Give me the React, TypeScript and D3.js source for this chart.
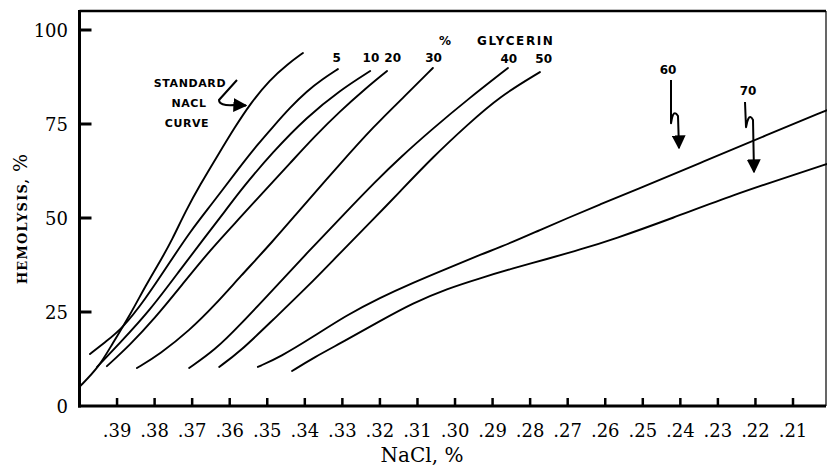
import React from "react";
import * as d3 from "d3";

// ---- data (NaCl %, hemolysis %) ----
const xTicks = [0.39, 0.38, 0.37, 0.36, 0.35, 0.34, 0.33, 0.32, 0.31, 0.30, 0.29, 0.28, 0.27, 0.26, 0.25, 0.24, 0.23, 0.22, 0.21];
const xTickLabels = [".39", ".38", ".37", ".36", ".35", ".34", ".33", ".32", ".31", ".30", ".29", ".28", ".27", ".26", ".25", ".24", ".23", ".22", ".21"];
const yTicks = [0, 25, 50, 75, 100];
const yTickLabels = ["0", "25", "50", "75", "100"];

const standardNaCl: [number, number][] = [
  [0.4, 5.1], [0.3948, 10.4], [0.3913, 16.5], [0.3868, 23.7], [0.3823, 32.2], [0.378, 39.4],
  [0.3754, 44.1], [0.3716, 52.1], [0.3679, 58.8], [0.3631, 66.8], [0.3586, 74.2], [0.3546, 80.3],
  [0.3493, 86.8], [0.3445, 91.0], [0.3405, 93.9],
];
const glycerin5: [number, number][] = [
  [0.3972, 13.8], [0.3932, 17.0], [0.3887, 20.5], [0.3826, 28.2], [0.3759, 38.3], [0.3706, 46.3],
  [0.3647, 53.8], [0.3573, 63.6], [0.3527, 69.4], [0.3485, 74.2], [0.344, 79.3], [0.3394, 83.8],
  [0.3352, 87.0], [0.3312, 89.6],
];
const glycerin10: [number, number][] = [
  [0.3953, 10.4], [0.3892, 16.8], [0.3812, 25.5], [0.3732, 36.2], [0.3666, 44.9], [0.361, 52.1],
  [0.3572, 57.3], [0.3485, 67.6], [0.3394, 76.9], [0.3306, 84.0], [0.3226, 89.1],
];
const glycerin20: [number, number][] = [
  [0.3927, 10.6], [0.3866, 16.2], [0.3799, 23.4], [0.3732, 31.6], [0.3652, 41.5], [0.3573, 50.0],
  [0.3506, 57.4], [0.3439, 64.6], [0.3373, 71.8], [0.3306, 78.4], [0.324, 84.3], [0.3181, 89.1],
];
const glycerin30: [number, number][] = [
  [0.3847, 10.1], [0.3786, 13.8], [0.3706, 20.2], [0.3639, 26.9], [0.3573, 34.3], [0.3485, 43.8],
  [0.3413, 52.2], [0.3306, 64.4], [0.3218, 74.2], [0.3133, 82.5], [0.3059, 89.9],
];
const glycerin40: [number, number][] = [
  [0.3708, 10.1], [0.3639, 14.9], [0.3573, 21.5], [0.3485, 30.9], [0.3394, 40.7], [0.3293, 51.3],
  [0.3213, 59.6], [0.3147, 66.0], [0.3059, 73.8], [0.2968, 81.4], [0.2859, 89.9],
];
const glycerin50: [number, number][] = [
  [0.3628, 10.4], [0.3573, 14.4], [0.3485, 22.9], [0.3394, 31.6], [0.3306, 40.7], [0.3218, 49.6],
  [0.3147, 57.0], [0.3059, 66.2], [0.2968, 74.7], [0.288, 82.4], [0.2774, 88.8],
];
const glycerin60: [number, number][] = [
  [0.3525, 10.4], [0.3466, 13.0], [0.3378, 18.4], [0.3288, 24.2], [0.32, 28.8], [0.3112, 32.8],
  [0.3021, 36.6], [0.2933, 40.2], [0.2846, 43.6], [0.2774, 46.8], [0.2702, 49.9], [0.2614, 53.6],
  [0.2526, 57.2], [0.2348, 64.6], [0.2169, 72.1], [0.2009, 78.7],
];
const glycerin70: [number, number][] = [
  [0.3434, 9.3], [0.3378, 12.8], [0.3288, 17.6], [0.32, 22.6], [0.3112, 27.4], [0.3021, 31.2],
  [0.2933, 34.0], [0.2846, 36.6], [0.2755, 39.1], [0.2667, 41.6], [0.2579, 44.3], [0.242, 50.0],
  [0.226, 56.1], [0.2082, 62.0], [0.2009, 64.4],
];
const allCurves = [standardNaCl, glycerin5, glycerin10, glycerin20, glycerin30, glycerin40, glycerin50, glycerin60, glycerin70];

// curve labels: text and anchor point (NaCl, hemolysis)
const curveLabels = ["5", "10", "20", "30", "40", "50"];
const curveLabelPos: [number, number][] = [
  [0.3315, 91.5], [0.3224, 91.5], [0.3166, 91.5], [0.3057, 91.5], [0.2857, 91.2], [0.2764, 91.2],
];

export default function App() {
  const W = 827, H = 466;
  const x = d3.scaleLinear().domain([0.4, 0.21]).range([79.5, 793]);
  const y = d3.scaleLinear().domain([0, 100]).range([406, 30]);
  const line = d3.line<[number, number]>()
    .x((d) => x(d[0]))
    .y((d) => y(d[1]))
    .curve(d3.curveBasis);

  const serif = "'DejaVu Serif', serif";
  const sans = "'DejaVu Sans', sans-serif";
  const left = 79.5, right = 826, top = 11, bottom = 406;

  return (
    <div style={{ position: "fixed", left: 0, top: 0 }}>
      <svg width={W} height={H} style={{ display: "block", background: "#fff" }}>
        <defs>
          <marker id="ah" viewBox="0 0 10 10" refX="9" refY="5" markerWidth="7" markerHeight="7" orient="auto">
            <path d="M0,0 L10,5 L0,10 z" fill="#000" />
          </marker>
        </defs>
        {/* frame */}
        <line x1={left} x2={right} y1={top} y2={top} stroke="#000" strokeWidth={2.5} />
        <line x1={right} x2={right} y1={top} y2={bottom} stroke="#000" strokeWidth={1.2} />
        <line x1={left} x2={left} y1={top - 1} y2={bottom + 1.5} stroke="#000" strokeWidth={3} />
        <line x1={left - 1.5} x2={right} y1={bottom} y2={bottom} stroke="#000" strokeWidth={3} />

        {/* y ticks */}
        {yTicks.map((t, i) => (
          <g key={"y" + i}>
            {t > 0 && <line x1={left} x2={left + 12} y1={y(t)} y2={y(t)} stroke="#000" strokeWidth={3} />}
            <text x={68} y={y(t) + 6.5} textAnchor="end" fontFamily={serif} fontSize={18}>{yTickLabels[i]}</text>
          </g>
        ))}
        {/* x ticks */}
        {xTicks.map((t, i) => (
          <g key={"x" + i}>
            <line x1={x(t)} x2={x(t)} y1={bottom} y2={bottom - 8} stroke="#000" strokeWidth={2.5} />
            <text x={x(t)} y={437} textAnchor="middle" fontFamily={serif} fontSize={18}>{xTickLabels[i]}</text>
          </g>
        ))}

        {/* axis titles */}
        <text x={422} y={462} textAnchor="middle" fontFamily={serif} fontSize={20}>NaCl, %</text>
        <text transform="translate(27,219) rotate(-90)" textAnchor="middle" fontFamily={serif}>
          <tspan fontSize={13} fontWeight="bold" letterSpacing={1.2}>HEMOLYSIS, </tspan>
          <tspan fontSize={19}>%</tspan>
        </text>

        {/* curves */}
        {allCurves.map((c, i) => (
          <path key={"c" + i} d={line(c) || ""} fill="none" stroke="#000" strokeWidth={1.9} strokeLinecap="round" />
        ))}

        {/* labels */}
        <text x={445} y={45} textAnchor="middle" fontFamily={sans} fontWeight="bold" fontSize={12}>%</text>
        <text x={477} y={45} fontFamily={sans} fontWeight="bold" fontSize={12} letterSpacing={1.6}>GLYCERIN</text>
        {curveLabels.map((s, i) => (
          <text key={"l" + i} x={x(curveLabelPos[i][0])} y={y(curveLabelPos[i][1])} textAnchor="middle"
            fontFamily={sans} fontWeight="bold" fontSize={12}>{s}</text>
        ))}
        <text x={668} y={74} textAnchor="middle" fontFamily={sans} fontWeight="bold" fontSize={12}>60</text>
        <text x={748} y={95} textAnchor="middle" fontFamily={sans} fontWeight="bold" fontSize={12}>70</text>

        <text x={190} y={87} textAnchor="middle" fontFamily={sans} fontWeight="bold" fontSize={11} letterSpacing={0.6}>STANDARD</text>
        <text x={189} y={107} textAnchor="middle" fontFamily={sans} fontWeight="bold" fontSize={11} letterSpacing={0.6}>NACL</text>
        <text x={187} y={127} textAnchor="middle" fontFamily={sans} fontWeight="bold" fontSize={11} letterSpacing={0.6}>CURVE</text>

        {/* annotation arrows */}
        <path d="M237,80 L219,100 Q219,106 234,105 L246,105.5" fill="none" stroke="#000" strokeWidth={2} markerEnd="url(#ah)" />
        <path d="M671,80 L671,123 C671,126 672,106 678,116 L679,148" fill="none" stroke="#000" strokeWidth={2} markerEnd="url(#ah)" />
        <path d="M745,102 L746,127 C746,129 748,110 753,120 L754,172" fill="none" stroke="#000" strokeWidth={2} markerEnd="url(#ah)" />
      </svg>
    </div>
  );
}
